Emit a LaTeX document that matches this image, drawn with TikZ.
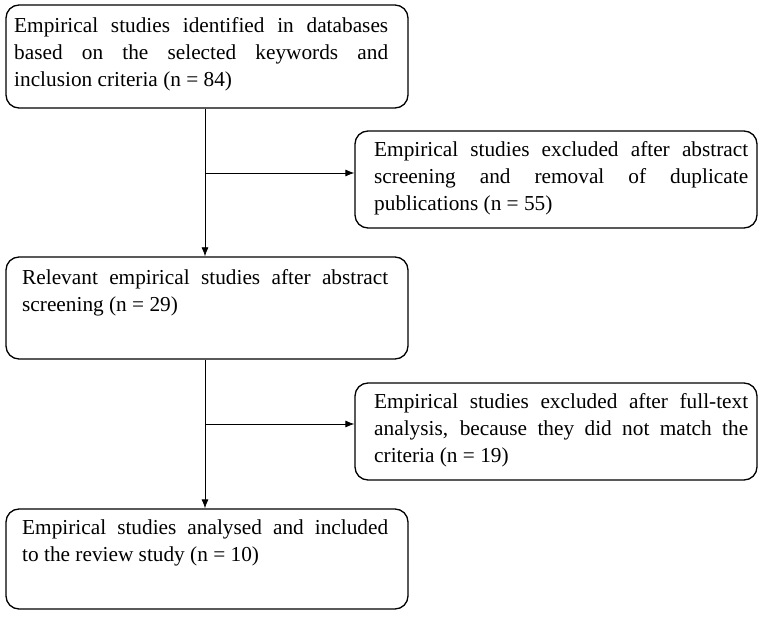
\documentclass[tikz,border=0pt]{standalone}
\usepackage{fontspec}
\setmainfont{Liberation Serif}
\usetikzlibrary{arrows.meta}
\begin{document}
\begin{tikzpicture}[x=1pt,y=-1pt,
 box/.style={draw,line width=1.3pt,rounded corners=13pt,inner sep=0},
 txt/.style={anchor=north west,inner sep=0,text width=374pt,align=justify,font=\fontsize{21.3}{27}\selectfont,execute at begin node={\hyphenpenalty=10000\relax}},
 arr/.style={-{Latex[length=9pt,width=7pt]},line width=0.8pt}]
\useasboundingbox (0,0) rectangle (768,617);
\node[box,minimum width=402pt,minimum height=103pt] (b1) at (207,56.5) {};
\node[box,minimum width=402pt,minimum height=97pt] (b2) at (556,179.5) {};
\node[box,minimum width=402pt,minimum height=102pt] (b3) at (207,308) {};
\node[box,minimum width=402pt,minimum height=97pt] (b4) at (556,431.5) {};
\node[box,minimum width=402pt,minimum height=100pt] (b5) at (207,559) {};
\node[txt] (t1) at (14,17) {Empirical studies identified in databases\linebreak based on the selected keywords and\linebreak inclusion criteria (n = 84)};
\node[txt] (t2) at (374,141) {Empirical studies excluded after abstract\linebreak screening and removal of duplicate\linebreak publications (n = 55)};
\node[txt,text width=366pt] (t3) at (22,269) {Relevant empirical studies after abstract\linebreak screening (n = 29)};
\node[txt] (t4) at (374,393) {Empirical studies excluded after full-text\linebreak analysis, because they did not match the\linebreak criteria (n = 19)};
\node[txt,text width=366pt] (t5) at (22,520) {Empirical studies analysed and included\linebreak to the review study (n = 10)};
\coordinate (j1) at (205,173);
\coordinate (j2) at (205,424);
\draw[arr] (b1.south -| j1) -- (b3.north -| j1);
\draw[arr] (j1) -- (b2.west |- j1);
\draw[arr] (b3.south -| j2) -- (b5.north -| j2);
\draw[arr] (j2) -- (b4.west |- j2);
\end{tikzpicture}
\end{document}
